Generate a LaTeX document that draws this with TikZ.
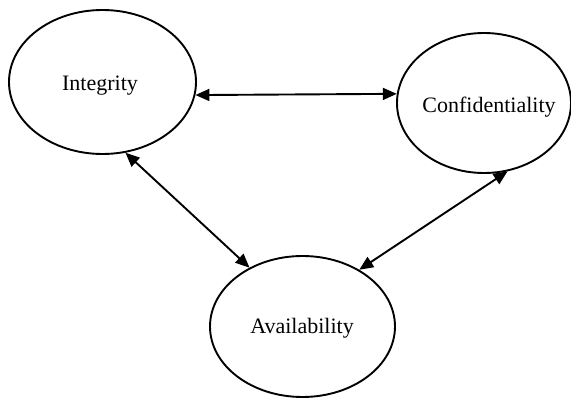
\documentclass[tikz,border=0pt]{standalone}
\usepackage{fontspec}
\setmainfont{Liberation Serif}
\usetikzlibrary{shapes.geometric, arrows.meta}
\tikzset{
	goal/.style = {draw, ellipse, line width = 1.9pt, inner sep = 0pt},
	goaltext/.style = {font = \fontsize{22}{25}\selectfont},
	link/.style = {{Triangle[length = 14pt, width = 12pt]}-{Triangle[length = 14pt, width = 12pt]}, line width = 1.9pt}
}
\begin{document}
\begin{tikzpicture}[x = 1pt, y = -1pt]
			\useasboundingbox (0, 0) rectangle (571, 398);
			
			\node [goal, minimum width = 187pt, minimum height = 144pt] (integ) at (102.5, 82) {};
			\node [goal, minimum width = 174pt, minimum height = 140pt] (conf) at (484, 103) {};
			\node [goal, minimum width = 185pt, minimum height = 141pt] (avail) at (302.5, 326.5) {};
			
			\node [goaltext] (integtxt) at (100, 86) {Integrity};
			\node [goaltext] (conftxt) at (489, 107) {Confidentiality};
			\node [goaltext] (availtxt) at (302, 328) {Availability};
			
			\draw [link] (integ.-8) -- (conf.174);
			\draw [link] (integ.-72) -- (avail.132);
			\draw [link] (conf.-71) -- (avail.45.5);
		\end{tikzpicture}
\end{document}
